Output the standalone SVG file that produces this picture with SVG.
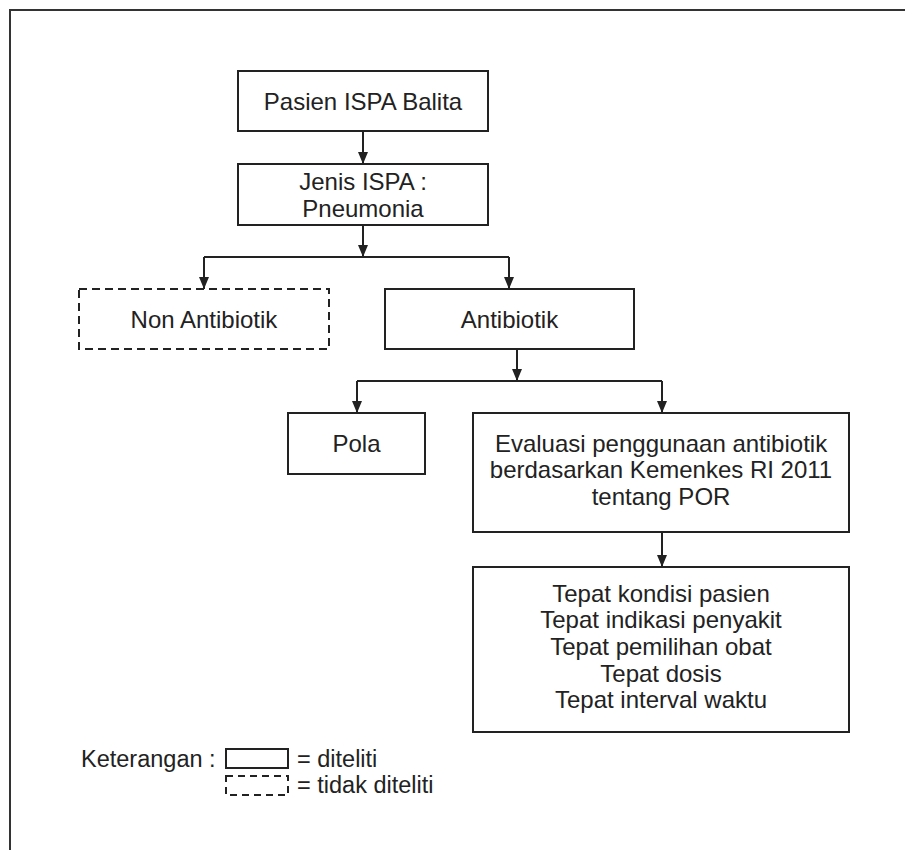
<svg xmlns="http://www.w3.org/2000/svg" width="905" height="850" viewBox="0 0 905 850">
<style>
.box{fill:#fff;stroke:#222;stroke-width:2}
.dash{fill:#fff;stroke:#222;stroke-width:2;stroke-dasharray:8 5}
.t{font-family:"Liberation Sans",Arial,sans-serif;font-size:24px;fill:#222;text-anchor:middle}
.lg{font-family:"Liberation Sans",Arial,sans-serif;font-size:23.5px;fill:#222}
.ln{fill:none;stroke:#222;stroke-width:2}
</style>
<defs>
<marker id="ah" viewBox="0 0 12 10" refX="12" refY="5" markerWidth="12" markerHeight="10" markerUnits="userSpaceOnUse" orient="auto">
<path d="M0,0 L12,5 L0,10 Z" fill="#222"/>
</marker>
</defs>
<rect width="905" height="850" fill="#fff"/>
<path d="M10,850 V10 H905" fill="none" stroke="#333" stroke-width="2"/>

<g id="connectors">
<path class="ln" d="M363,131 V164" marker-end="url(#ah)"/>
<path class="ln" d="M363,225 V257" marker-end="url(#ah)"/>
<path class="ln" d="M204,257 H509"/>
<path class="ln" d="M204,257 V289" marker-end="url(#ah)"/>
<path class="ln" d="M509,257 V289" marker-end="url(#ah)"/>
<path class="ln" d="M517,349 V381" marker-end="url(#ah)"/>
<path class="ln" d="M357,381 H662"/>
<path class="ln" d="M357,381 V413" marker-end="url(#ah)"/>
<path class="ln" d="M662,381 V413" marker-end="url(#ah)"/>
<path class="ln" d="M662,532 V567" marker-end="url(#ah)"/>
</g>

<g id="pasien">
<rect class="box" x="238" y="71" width="250" height="60"/>
<text class="t" x="363" y="110">Pasien ISPA Balita</text>
</g>
<g id="jenis">
<rect class="box" x="238" y="164" width="250" height="61"/>
<text class="t" x="363" y="190">Jenis ISPA :</text>
<text class="t" x="363" y="217">Pneumonia</text>
</g>
<g id="non-antibiotik">
<rect class="dash" x="79" y="289" width="250" height="60"/>
<text class="t" x="204" y="328">Non Antibiotik</text>
</g>
<g id="antibiotik">
<rect class="box" x="385" y="289" width="249" height="60"/>
<text class="t" x="509.5" y="328">Antibiotik</text>
</g>
<g id="pola">
<rect class="box" x="288" y="413" width="137" height="61"/>
<text class="t" x="356.5" y="452">Pola</text>
</g>
<g id="evaluasi">
<rect class="box" x="473" y="413" width="376" height="119"/>
<text class="t" x="661" y="452">Evaluasi penggunaan antibiotik</text>
<text class="t" x="661" y="478">berdasarkan Kemenkes RI 2011</text>
<text class="t" x="661" y="505">tentang POR</text>
</g>
<g id="tepat">
<rect class="box" x="473" y="567" width="376" height="165"/>
<text class="t" x="661" y="602">Tepat kondisi pasien</text>
<text class="t" x="661" y="628">Tepat indikasi penyakit</text>
<text class="t" x="661" y="655">Tepat pemilihan obat</text>
<text class="t" x="661" y="682">Tepat dosis</text>
<text class="t" x="661" y="708">Tepat interval waktu</text>
</g>

<g id="legend">
<text class="lg" x="81" y="767">Keterangan :</text>
<rect class="box" x="226" y="749" width="62" height="19"/>
<text class="lg" x="297" y="767">= diteliti</text>
<rect class="box" x="226" y="776" width="62" height="19" style="stroke-dasharray:7 5"/>
<text class="lg" x="297" y="793">= tidak diteliti</text>
</g>
</svg>
